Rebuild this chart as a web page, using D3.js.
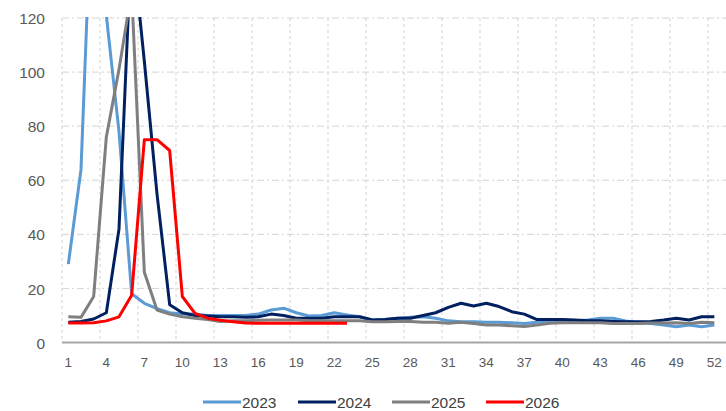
<!DOCTYPE html>
<html>
<head>
<meta charset="utf-8">
<script src="https://cdn.jsdelivr.net/npm/d3@7"></script>
<style>
  body { margin: 0; background: #fff; }
  svg { display: block; font-family: "Liberation Sans", Arial, sans-serif; }
</style>
</head>
<body>
<svg id="chart" width="726" height="411"></svg>
<script>
//chart data
var WEEKS = d3.range(1, 54);
var Y_TICKS = [0, 20, 40, 60, 80, 100, 120];
var X_TICKS = d3.range(1, 53, 3);
var YEARS = ["2023", "2024", "2025", "2026"];
var COLORS = ["#5B9BD5", "#002060", "#7F7F7F", "#FF0000"];

var S2023 = [29, 64, 185, 121, 78, 18, 14.5, 12.5, 11, 10.5, 10.5, 10, 10, 10, 10, 10.5, 12, 12.7, 11, 9.8,
    10, 11, 10.2, 9.5, 8.3, 8.5, 9, 9.3, 9.5, 9, 8, 7.7, 7.7, 7.5, 7.5, 7.3, 7, 7.5, 8, 8,
    8, 8.3, 9, 9, 8, 7.3, 7, 6.5, 5.8, 6.5, 5.8, 6.5];
var S2024 = [7.5, 7.8, 8.7, 11, 42, 150, 104, 55, 14, 11, 10, 9.8, 9.5, 9.5, 9.3, 9.5, 10.5, 10, 9, 9,
    9, 9.5, 9.5, 9.5, 8.3, 8.5, 9, 9, 10, 11, 13, 14.5, 13.5, 14.5, 13.3, 11.4, 10.5, 8.5, 8.5, 8.5,
    8.3, 8, 8, 7.8, 7.7, 7.7, 7.8, 8.3, 9, 8.3, 9.5, 9.5];
var S2025 = [9.5, 9.3, 17, 76, 101, 130, 26, 12, 10.5, 9.5, 9, 8.5, 7.8, 8, 8, 8.2, 8.3, 8.3, 8.3, 8,
    8, 8, 8, 8, 7.7, 7.7, 7.8, 7.8, 7.5, 7.5, 7.1, 7.5, 7, 6.5, 6.5, 6.2, 5.9, 6.5, 7.1, 7.3,
    7.3, 7.3, 7.3, 7, 7, 7, 7.2, 7.2, 7.3, 7, 7.5, 7.3];
var S2026 = [7.2, 7.2, 7.3, 8, 9.5, 17.5, 75, 75, 71, 17, 10.8, 9, 8.2, 7.7, 7.2, 7.1, 7.1, 7.1, 7.1, 7.1,
    7.1, 7.1, 7.1];
var SERIES = [S2023, S2024, S2025, S2026];

var WIDTH = 726;
var PLOT_LEFT = 62;
var PLOT_TOP = 18;
var PLOT_BOTTOM = 342.5;
var CAT_WIDTH = 12.667;

var svg = d3.select("#chart");

var xScale = d3.scaleBand()
    .domain(WEEKS)
    .range([PLOT_LEFT, PLOT_LEFT + WEEKS.length * CAT_WIDTH])
    .padding(0);

var yScale = d3.scaleLinear()
    .domain([0, 120])
    .range([PLOT_BOTTOM, PLOT_TOP]);

function xMid(w) {
    return xScale(w) + xScale.bandwidth() / 2;
}

// gridlines
svg.append("g")
    .selectAll("line")
    .data(Y_TICKS.filter(d => d > 0))
    .join("line")
    .attr("x1", PLOT_LEFT)
    .attr("x2", WIDTH)
    .attr("y1", d => yScale(d))
    .attr("y2", d => yScale(d))
    .attr("stroke", "#d3d3d3")
    .attr("stroke-width", 1)
    .attr("stroke-dasharray", "7,3,2,3");

svg.append("g")
    .selectAll("line")
    .data(X_TICKS)
    .join("line")
    .attr("x1", d => xScale(d))
    .attr("x2", d => xScale(d))
    .attr("y1", PLOT_TOP)
    .attr("y2", PLOT_BOTTOM)
    .attr("stroke", "#d3d3d3")
    .attr("stroke-width", 1)
    .attr("stroke-dasharray", "3,3");

// axes
var yAxis = svg.append("g")
    .attr("transform", "translate(45,0)")
    .call(d3.axisLeft(yScale).tickValues(Y_TICKS).tickSize(0).tickPadding(0));
yAxis.select(".domain").remove();
yAxis.selectAll("text")
    .attr("font-size", "15.5px")
    .attr("fill", "#595959")
    .attr("dy", "0.36em");

var xAxis = svg.append("g")
    .attr("transform", `translate(0, ${PLOT_BOTTOM})`)
    .call(d3.axisBottom(xScale).tickValues(X_TICKS).tickSize(0).tickPadding(0));
xAxis.select(".domain").remove();
xAxis.selectAll("text")
    .attr("font-size", "13.5px")
    .attr("fill", "#595959")
    .attr("y", 24)
    .attr("dy", 0);

svg.append("line")
    .attr("x1", PLOT_LEFT)
    .attr("x2", WIDTH)
    .attr("y1", yScale(0))
    .attr("y2", yScale(0))
    .attr("stroke", "#a6a6a6")
    .attr("stroke-width", 2);

// lines
svg.append("clipPath")
    .attr("id", "plotclip")
    .append("rect")
    .attr("x", 0)
    .attr("y", PLOT_TOP - 1)
    .attr("width", WIDTH)
    .attr("height", PLOT_BOTTOM - PLOT_TOP + 10);

var line = d3.line()
    .x((d, i) => xMid(WEEKS[i]))
    .y(d => yScale(d));

svg.append("g")
    .attr("clip-path", "url(#plotclip)")
    .selectAll("path")
    .data(SERIES)
    .join("path")
    .attr("fill", "none")
    .attr("stroke", (d, i) => COLORS[i])
    .attr("stroke-width", 3)
    .attr("stroke-linejoin", "round")
    .attr("d", line);

// legend
var LEGEND_X = [203, 298, 392, 486];
var legend = svg.append("g")
    .selectAll("g")
    .data(YEARS)
    .join("g")
    .attr("transform", (d, i) => `translate(${LEGEND_X[i]}, 402)`);

legend.append("line")
    .attr("x1", 0)
    .attr("x2", 38)
    .attr("stroke", (d, i) => COLORS[i])
    .attr("stroke-width", 3);

legend.append("text")
    .attr("x", 39)
    .attr("y", 5.5)
    .attr("font-size", "15.5px")
    .attr("fill", "#404040")
    .text(d => d);
</script>
</body>
</html>
